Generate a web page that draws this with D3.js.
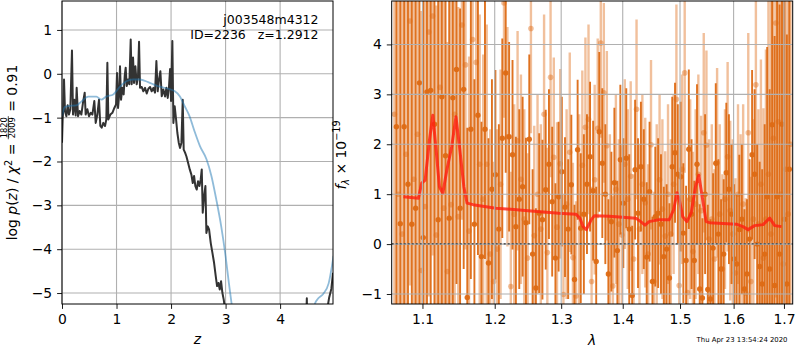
<!DOCTYPE html>
<html><head><meta charset="utf-8">
<script src="https://cdn.jsdelivr.net/npm/d3@7"></script>
<style>body{margin:0;background:#fff}svg{display:block;font-family:"DejaVu Sans",sans-serif}</style>
</head><body><svg id="c" width="800" height="350"></svg>
<script>
// ---------- left panel: p(z) ----------
const pzZ=[0,0.012,0.024,0.037,0.055,0.080,0.104,0.128,0.153,0.183,
0.202,0.226,0.251,0.269,0.294,0.324,0.355,0.385,0.416,0.434,
0.465,0.495,0.526,0.557,0.593,0.618,0.648,0.679,0.703,0.728,
0.758,0.789,0.813,0.832,0.850,0.887,0.924,0.960,0.991,1.009,
1.028,1.046,1.064,1.083,1.107,1.131,1.150,1.168,1.187,1.211,
1.235,1.260,1.278,1.303,1.321,1.346,1.370,1.394,1.413,1.431,
1.462,1.492,1.523,1.554,1.584,1.615,1.645,1.676,1.706,1.731,
1.755,1.780,1.804,1.829,1.859,1.890,1.914,1.939,1.963,1.982,
2.000,2.024,2.043,2.067,2.092,2.116,2.141,2.165,2.190,2.214,
2.232,2.257,2.281,2.312,2.343,2.373,2.398,2.422,2.446,2.471,
2.495,2.520,2.544,2.563,2.581,2.606,2.630,2.648,2.673,2.697,
2.728,2.758,2.789,2.820,2.844,2.869,2.893,2.917,2.942,2.966,
2.991,3.05,3.2,3.6,4.0,4.4,4.47,4.49,4.51,4.6,
4.75,4.86,4.9,4.94,4.97];
const pzLog=[-1.57,-1.04,-0.81,-0.13,-0.85,-0.97,-0.72,-0.93,-0.81,0.53,
-0.93,-0.59,-0.95,-0.32,-0.97,-0.85,-0.93,-0.66,-0.43,-0.93,
-0.81,-0.97,-0.89,-0.93,-0.62,-1.12,-0.93,-0.59,-1.19,-1.23,
-1.12,-1.19,-1.04,0.25,-1.04,-0.93,-0.89,-0.78,-0.70,0.02,
-0.78,-0.51,0.17,-0.59,-0.32,-0.47,-0.05,0.14,-0.28,-0.13,
-0.24,0.78,-0.24,0.37,-0.21,0.17,-0.24,-0.05,0.73,-0.32,
-0.30,-0.40,-0.32,-0.45,-0.34,-0.30,-0.40,-0.32,-0.43,0.29,
-0.40,-0.13,0.06,-0.51,-0.36,-0.52,-0.32,-0.55,-0.28,0.11,
-0.62,0.75,-1.12,-0.74,-1.04,-1.35,-1.57,-1.69,-1.57,-0.59,
-1.73,-1.80,-1.88,-2.03,-2.18,-2.30,-2.49,-2.33,-2.56,-2.64,
-2.45,-2.56,-2.41,-2.18,-3.17,-2.79,-2.56,-3.63,-3.48,-3.55,
-3.86,-4.08,-4.31,-4.62,-4.84,-4.77,-4.92,-4.73,-5.00,-5.15,
-5.38,-6.3,-8,-10,-10,-8,-6,-5.12,-6.5,-7.5,
-6.5,-5.4,-5.1,-4.9,-4.54];
const priorZ=[0,0.05,0.14,0.26,0.35,0.48,0.63,0.72,0.81,0.94,1.06,1.18,1.30,1.43,1.58,1.73,1.91,2.07,2.16,2.25,2.34,2.43,2.53,2.65,2.74,2.83,2.92,3.00,3.06,3.11,3.3,3.6,4.0,4.3,4.55,4.64,4.70,4.79,4.89,4.98];
const priorLog=[-0.97,-0.76,-0.73,-0.72,-0.64,-0.52,-0.52,-0.59,-0.52,-0.47,-0.30,-0.17,-0.13,-0.13,-0.19,-0.27,-0.33,-0.40,-0.51,-0.74,-0.97,-1.31,-1.65,-1.95,-2.33,-2.87,-3.48,-4.16,-4.77,-5.24,-6.8,-8.5,-9.5,-8.0,-5.9,-5.24,-5.12,-5.02,-4.78,-4.15];
const zTicks=[0,1,2,3,4];
const logpTicks=[1,0,-1,-2,-3,-4,-5];

// ---------- right panel: spectrum ----------
const darkLam=[1.066,1.071,1.076,1.081,1.086,1.091,1.096,1.101,1.106,1.111,
1.116,1.121,1.126,1.131,1.136,1.141,1.146,1.151,1.156,1.161,
1.166,1.171,1.176,1.181,1.186,1.191,1.196,1.201,1.206,1.211,
1.216,1.221,1.226,1.231,1.236,1.241,1.246,1.251,1.256,1.261,
1.266,1.271,1.276,1.281,1.286,1.291,1.296,1.301,1.306,1.311,
1.316,1.321,1.326,1.331,1.336,1.341,1.346,1.351,1.356,1.361,
1.366,1.371,1.376,1.381,1.386,1.391,1.396,1.401,1.406,1.411,
1.416,1.421,1.426,1.431,1.436,1.441,1.446,1.451,1.456,1.461,
1.466,1.471,1.476,1.481,1.486,1.491,1.496,1.501,1.506,1.511,
1.516,1.521,1.526,1.531,1.536,1.541,1.546,1.551,1.556,1.561,
1.566,1.571,1.576,1.581,1.586,1.591,1.596,1.601,1.606,1.611,
1.616,1.621,1.626,1.631,1.636,1.641,1.646,1.651,1.656,1.661,
1.666,1.671,1.676,1.681,1.686,1.691,1.696,1.701,1.706,1.711];
const darkFlux=[2.35,0.41,2.35,1.2,0.40,0.72,3.23,0.13,3.05,3.08,
2.40,0.49,2.95,1.77,0.52,2.93,3.50,0.72,3.10,-1.07,
2.30,0.40,2.58,-0.25,2.30,-0.38,1.10,1.39,0.30,2.12,
3.43,2.15,1.79,0.35,0.90,1.15,0.43,2.10,-0.20,-0.88,
0.62,0.49,1.09,1.60,0.85,-0.28,0.95,1.45,0.74,0.30,
1.19,-0.71,1.89,0.32,0.60,1.20,1.75,1.07,-0.35,2.25,
1.62,1.00,-0.60,0.45,1.23,-0.13,1.69,0.82,1.72,0.30,
-1.03,1.49,0.62,1.55,0.90,-0.26,1.05,-0.75,0.55,0.62,
0.40,-0.25,-0.10,-0.68,1.55,1.83,1.40,1.35,0.22,-0.33,
1.90,0.60,-0.33,1.60,-0.90,-1.08,1.00,-0.91,-1.10,-0.08,
1.62,0.20,-0.50,-0.20,1.43,1.10,0.60,-0.30,-0.40,0.29,
0.50,-0.90,-0.60,0.10,1.79,1.40,0.00,-0.45,-0.80,-0.20,
0.95,-0.50,2.39,-0.83,0.95,-0.20,2.40,0.50,-0.80,1.50];
const darkErr=[5.0,5.2,4.8,5.0,5.3,4.9,5.0,5.1,4.7,4.9,4.6,4.8,4.5,4.4,4.6,4.2,4.3,4.0,
3.6,3.4,3.0,2.9,2.8,2.7,2.6,2.5,
2.2,2.1,2.1,2.0,2.0,1.9,1.9,1.8,1.8,1.8,1.7,1.7,1.7,1.6,1.6,1.6,1.6,1.5,1.5,1.5,1.5,1.5,1.4,1.4,1.4,
1.5,1.4,1.5,1.6,1.4,1.5,1.4,1.5,1.6,1.5,1.4,1.5,1.4,1.5,1.4,1.5,1.3,1.4,1.5,1.4,1.4,1.5,1.3,1.4,1.5,1.4,1.3,1.4,1.5,1.4,1.4,1.3,1.5,1.4,1.4,
1.4,1.5,1.4,1.5,1.6,1.5,1.6,1.6,1.7,1.6,1.6,1.7,1.6,1.5,1.6,1.5,1.4,1.5,1.4,1.5,1.4,1.5,1.4,1.5,1.5,1.6,1.5,1.6,1.7,1.7,
2.0,2.1,2.3,2.6,3.0,3.6,4.5,5.0,5.2,5.0,5.3,5.1,5.0,5.2];
const lightLam=[1.0635,1.0685,1.0735,1.0785,1.0835,1.0885,1.0935,1.0985,1.1035,1.1085,
1.1135,1.1185,1.1235,1.1285,1.1335,1.1385,1.1435,1.1485,1.1535,1.1585,
1.1635,1.1685,1.1735,1.1785,1.1835,1.1885,1.1935,1.1985,1.2035,1.2085,
1.2135,1.2185,1.2235,1.2285,1.2335,1.2385,1.2435,1.2485,1.2535,1.2585,
1.2635,1.2685,1.2735,1.2785,1.2835,1.2885,1.2935,1.2985,1.3035,1.3085,
1.3135,1.3185,1.3235,1.3285,1.3335,1.3385,1.3435,1.3485,1.3535,1.3585,
1.3635,1.3685,1.3735,1.3785,1.3835,1.3885,1.3935,1.3985,1.4035,1.4085,
1.4135,1.4185,1.4235,1.4285,1.4335,1.4385,1.4435,1.4485,1.4535,1.4585,
1.4635,1.4685,1.4735,1.4785,1.4835,1.4885,1.4935,1.4985,1.5035,1.5085,
1.5135,1.5185,1.5235,1.5285,1.5335,1.5385,1.5435,1.5485,1.5535,1.5585,
1.5635,1.5685,1.5735,1.5785,1.5835,1.5885,1.5935,1.5985,1.6035,1.6085,
1.6135,1.6185,1.6235,1.6285,1.6335,1.6385,1.6435,1.6485,1.6535,1.6585,
1.6635,1.6685,1.6735,1.6785,1.6835,1.6885,1.6935,1.6985,1.7035,1.7085,
1.7135];
const lightFlux=[2.6,1.0,0.2,1.8,4.47,1.3,2.2,-0.53,0.75,4.25,
4.57,0.18,3.14,0.72,-0.55,0.79,2.6,0.55,4.39,3.59,
0.26,4.10,3.64,1.60,0.9,1.60,-0.2,-0.75,-0.1,1.2,
4.83,2.15,-0.85,0.6,2.07,1.3,0.5,-0.28,4.32,0.17,
1.0,0.3,2.6,-0.17,3.34,1.74,0.34,1.61,-1.01,0.8,
1.84,-0.27,-1.04,0.6,1.58,2.34,2.50,-0.75,1.29,2.32,
4.03,3.03,1.97,0.5,-0.84,1.1,0.4,0.18,1.6,0.9,
1.36,-0.3,2.70,0.3,1.2,0.83,-0.2,1.99,-0.75,0.5,
1.29,0.7,0.16,1.0,0.2,1.2,2.90,-0.83,1.5,3.43,
-0.97,0.9,-0.15,0.8,1.4,0.67,2.23,1.98,0.1,0.5,
-0.3,1.63,0.6,-0.5,0.9,1.75,0.67,0.2,-0.58,1.0,
0.3,0.8,-0.98,2.23,-0.75,0.5,3.19,0.4,1.2,-0.28,
0.5,1.4,0.2,2.12,4.43,2.45,1.0,-0.4,1.5,0.6,
2.0];
const lightErr=[5.5,5.2,5.4,5.0,5.3,5.1,5.4,5.2,5.0,5.3,
4.8,4.6,4.7,4.5,4.6,4.4,4.3,4.2,
3.9,3.7,3.5,3.3,3.2,3.0,2.9,2.8,
2.5,2.4,2.4,2.3,2.3,2.2,2.3,2.2,2.2,2.1,2.2,2.1,2.1,2.2,2.0,2.1,2.0,2.1,2.0,2.0,2.1,1.9,2.0,1.9,2.0,1.9,1.9,2.0,1.9,1.8,1.9,1.9,
1.9,1.8,1.9,1.8,1.9,1.7,1.8,1.9,1.7,1.8,1.7,1.8,1.9,1.7,1.8,1.7,1.8,1.7,1.8,1.7,1.8,1.9,1.7,1.8,1.7,1.8,1.9,1.8,1.9,1.8,1.9,2.0,1.9,2.0,
2.0,1.9,2.0,1.9,2.0,1.9,2.0,1.9,1.8,1.9,1.8,1.9,1.8,1.9,1.8,1.9,1.9,1.8,1.9,2.0,1.9,2.0,2.1,2.0,2.2,2.3,2.5,
3.0,3.4,4.0,4.8,5.3,5.5,5.2,5.4,5.3,5.5,5.2,5.4];
const modelLam=[1.0751,1.0947,1.099,1.1036,1.1093,1.1138,1.1183,1.1227,1.1273,1.1327,1.1394,1.1453,1.1507,1.1562,1.1607,1.169,1.2017,1.2493,1.2963,1.3232,1.3295,1.3348,1.34,1.348,1.3533,1.3776,1.4222,1.4307,1.4381,1.4451,1.4627,1.4807,1.4886,1.4946,1.4988,1.5049,1.5123,1.5202,1.5282,1.5344,1.5406,1.548,1.5543,1.6053,1.6182,1.628,1.641,1.6578,1.6711,1.6812,1.6949];
const modelFlux=[0.95,0.92,1.22,1.28,2.08,2.58,1.88,1.15,1.02,1.48,1.95,2.55,1.88,1.15,0.82,0.79,0.72,0.67,0.62,0.60,0.52,0.35,0.29,0.49,0.57,0.56,0.52,0.45,0.38,0.45,0.49,0.49,0.69,1.03,0.88,0.55,0.45,0.62,1.15,1.38,0.95,0.45,0.43,0.40,0.35,0.29,0.37,0.39,0.52,0.37,0.35];
const lamTicks=[1.1,1.2,1.3,1.4,1.5,1.6,1.7];
const fluxTicks=[-1,0,1,2,3,4];

// ---------- drawing ----------
const svg=d3.select("#c");
const L={x0:62,x1:333,y0:1,y1:304};
const R={x0:391.7,x1:792.7,y0:1,y1:304};
const FS=13.9, GRID="#b0b0b0";
const xz=d3.scaleLinear([0,4.97],[L.x0,L.x1]);
const ylp=d3.scaleLinear([-5.25,1.66],[L.y1,L.y0]);
const xl=d3.scaleLog([1.06,1.718],[R.x0,R.x1]);
const yf=d3.scaleLinear([-1.2,4.87],[R.y1,R.y0]);

const defs=svg.append("defs");
defs.append("clipPath").attr("id","clipL").append("rect").attr("x",L.x0).attr("y",L.y0).attr("width",L.x1-L.x0).attr("height",L.y1-L.y0);
defs.append("clipPath").attr("id","clipR").append("rect").attr("x",R.x0).attr("y",R.y0).attr("width",R.x1-R.x0).attr("height",R.y1-R.y0);

function grid(g,P,xs,xt,ys,yt){
  g.selectAll(null).data(xt).join("line").attr("x1",d=>xs(d)).attr("x2",d=>xs(d)).attr("y1",P.y0).attr("y2",P.y1).attr("stroke",GRID).attr("stroke-width",1.1);
  g.selectAll(null).data(yt).join("line").attr("y1",d=>ys(d)).attr("y2",d=>ys(d)).attr("x1",P.x0).attr("x2",P.x1).attr("stroke",GRID).attr("stroke-width",1.1);
}
function axes(P,xs,xt,xf,ys,yt,yf_){
  const gx=svg.append("g").attr("transform",`translate(0,${P.y1})`).call(d3.axisBottom(xs).tickValues(xt).tickFormat(xf).tickSize(4.9).tickPadding(5.5));
  const gy=svg.append("g").attr("transform",`translate(${P.x0},0)`).call(d3.axisLeft(ys).tickValues(yt).tickFormat(yf_).tickSize(4.9).tickPadding(4.9));
  [gx,gy].forEach(g=>{g.select(".domain").remove();g.selectAll("line").attr("stroke","#000").attr("stroke-width",0.9);
    g.selectAll("text").attr("font-size",FS).attr("font-family","DejaVu Sans").attr("fill","#000");});
  svg.append("rect").attr("x",P.x0).attr("y",P.y0).attr("width",P.x1-P.x0).attr("height",P.y1-P.y0).attr("fill","none").attr("stroke","#000").attr("stroke-width",1);
}

// left panel
const gL=svg.append("g");
grid(gL,L,xz,zTicks,ylp,logpTicks);
const gLc=gL.append("g").attr("clip-path","url(#clipL)");
gLc.append("path").datum(pzZ.map((z,i)=>[z,pzLog[i]]))
  .attr("d",d3.line().x(d=>xz(d[0])).y(d=>ylp(d[1])))
  .attr("fill","none").attr("stroke","#333").attr("stroke-width",2).attr("stroke-linejoin","round");
gLc.append("path").datum(priorZ.map((z,i)=>[z,priorLog[i]]))
  .attr("d",d3.line().x(d=>xz(d[0])).y(d=>ylp(d[1])).curve(d3.curveMonotoneX))
  .attr("fill","none").attr("stroke","#1f77b4").attr("stroke-opacity",0.5).attr("stroke-width",1.8);
axes(L,xz,zTicks,d3.format("d"),ylp,logpTicks,d3.format("d"));

svg.append("text").attr("x",318.5).attr("y",24).attr("text-anchor","end").attr("font-size",12.5).text("j003548m4312");
svg.append("text").attr("x",318.5).attr("y",39).attr("text-anchor","end").attr("font-size",12.5).style("white-space","pre").text("ID=2236   z=1.2912");
svg.append("text").attr("x",(L.x0+L.x1)/2).attr("y",344).attr("text-anchor","middle").attr("font-size",FS).attr("font-style","italic").text("z");

// left y label with fraction
{
  const g=svg.append("g").attr("transform","translate(17.3,152.5) rotate(-90)");
  const t1=g.append("text").attr("font-size",FS);
  t1.append("tspan").text("log ");
  t1.append("tspan").attr("font-style","italic").text("p");
  t1.append("tspan").text("(");
  t1.append("tspan").attr("font-style","italic").text("z");
  t1.append("tspan").text(") / ");
  t1.append("tspan").attr("font-style","italic").text("χ");
  t1.append("tspan").attr("font-size",9.7).attr("dy",-5.5).text("2");
  t1.append("tspan").attr("dy",5.5).style("white-space","pre").text(" = ");
  const w1=t1.node().getComputedTextLength();
  const num=g.append("text").attr("font-size",8.3).attr("y",-10.2).text("1820");
  const den=g.append("text").attr("font-size",8.3).attr("y",-2.2).text("2009");
  const wf=Math.max(num.node().getComputedTextLength(),den.node().getComputedTextLength())+2;
  num.attr("x",w1+wf/2).attr("text-anchor","middle");
  den.attr("x",w1+wf/2).attr("text-anchor","middle");
  g.append("line").attr("x1",w1).attr("x2",w1+wf).attr("y1",-9).attr("y2",-9).attr("stroke","#000").attr("stroke-width",0.7);
  const t2=g.append("text").attr("font-size",FS).attr("x",w1+wf).style("white-space","pre").text(" = 0.91");
  const total=w1+wf+t2.node().getComputedTextLength();
  g.attr("transform",`translate(17.3,${152.5+total/2}) rotate(-90)`);
}

// right panel
const gR=svg.append("g");
const gRc=gR.append("g").attr("clip-path","url(#clipR)");
const COL="#dd6a14";
function series(lam,flux,err,op,w,r){
  const data=lam.map((l,i)=>({l,f:flux[i],e:err[i]}));
  const g=gRc.append("g");
  g.selectAll(null).data(data).join("line")
    .attr("x1",d=>xl(d.l)).attr("x2",d=>xl(d.l))
    .attr("y1",d=>yf(d.f-d.e)).attr("y2",d=>yf(d.f+d.e))
    .attr("stroke",COL).attr("stroke-opacity",op).attr("stroke-width",w);
  g.selectAll(null).data(data).join("circle")
    .attr("cx",d=>xl(d.l)).attr("cy",d=>yf(d.f)).attr("r",r)
    .attr("fill",COL).attr("fill-opacity",op);
}
series(lightLam,lightFlux,lightErr,0.42,2.4,2.8);
series(darkLam,darkFlux,darkErr,0.95,1.9,2.7);
grid(gR,R,xl,lamTicks,yf,fluxTicks);
gRc.append("path").datum(modelLam.map((l,i)=>[l,modelFlux[i]]))
  .attr("d",d3.line().x(d=>xl(d[0])).y(d=>yf(d[1])))
  .attr("fill","none").attr("stroke","#ff1e10").attr("stroke-opacity",0.8).attr("stroke-width",3).attr("stroke-linejoin","round");
gRc.append("line").attr("x1",R.x0).attr("x2",R.x1).attr("y1",yf(0)).attr("y2",yf(0))
  .attr("stroke","#000").attr("stroke-width",2).attr("stroke-dasharray","2,2");
axes(R,xl,lamTicks,d3.format(".1f"),yf,fluxTicks,d3.format("d"));
svg.append("text").attr("x",(R.x0+R.x1)/2).attr("y",345).attr("text-anchor","middle").attr("font-size",FS).attr("font-style","italic").text("λ");

// right y label
{
  const g=svg.append("g").attr("transform","translate(346,155) rotate(-90)");
  const t=g.append("text").attr("font-size",FS);
  t.append("tspan").attr("font-style","italic").text("f");
  t.append("tspan").attr("font-style","italic").attr("font-size",9.7).attr("dy",3).text("λ");
  t.append("tspan").attr("dy",-3).style("white-space","pre").text(" × 10");
  t.append("tspan").attr("font-size",9.7).attr("dy",-6).text("−19");
  const w=t.node().getComputedTextLength();
  t.attr("x",-w/2);
}

svg.append("text").attr("x",787.5).attr("y",342).attr("text-anchor","end").attr("font-size",6.9).text("Thu Apr 23 13:54:24 2020");
</script></body></html>
